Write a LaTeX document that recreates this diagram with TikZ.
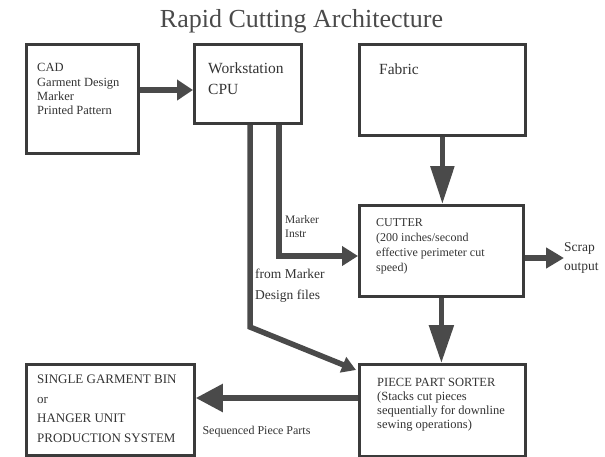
\documentclass[tikz,border=0pt]{standalone}
\usepackage{fontspec}
\setmainfont{Liberation Serif}
\usetikzlibrary{arrows.meta}
\usetikzlibrary{calc}
\definecolor{ink}{HTML}{4A4A4A}
\tikzset{
  box/.style={draw=ink!80!black, line width=2.8pt, anchor=north west, inner sep=0pt},
  pipe/.style={draw=ink, line width=5.5pt, line join=miter},
  txt/.style={align=left, inner sep=0pt, text=black!80, anchor=north west},
}
\newcommand{\fs}[2]{\fontsize{#1}{#2}\selectfont}

\begin{document}
\begin{tikzpicture}[x=1pt, y=-1pt]
            \useasboundingbox (0,0) rectangle (605,456);
            \node[text=ink, font=\fs{26}{28}] (title) at (301.5,21) {Rapid Cutting Architecture};
            \node[box, minimum width=112, minimum height=109] (cad) at (25,43) {};
            \node[box, minimum width=107, minimum height=79] (ws) at (193,43) {};
            \node[box, minimum width=166, minimum height=91] (fabric) at (358,43) {};
            \node[box, minimum width=164, minimum height=91] (cutter) at (358,204) {};
            \node[box, minimum width=166, minimum height=92] (sorter) at (358,363) {};
            \node[box, minimum width=168, minimum height=91] (bin) at (25,363) {};
            \node[txt, font=\fs{12.5}{14.3}] (cadtxt) at ($(cad.north west)+(12,20.5)$) {CAD\\Garment Design\\Marker\\Printed Pattern};
            \node[txt, font=\fs{15.5}{21}] (wstxt) at ($(ws.north west)+(15,19.5)$) {Workstation\\CPU};
            \node[txt, font=\fs{15.5}{21}] (fabtxt) at ($(fabric.north west)+(21,20.5)$) {Fabric};
            \node[txt, font=\fs{12}{15}] (cuttxt) at ($(cutter.north west)+(18,14.5)$) {CUTTER\\(200 inches/second\\effective perimeter cut\\speed)};
            \node[txt, font=\fs{12.5}{14}] (sorttxt) at ($(sorter.north west)+(19,15)$) {PIECE PART SORTER\\(Stacks cut pieces\\sequentially for downline\\sewing operations)};
            \node[txt, font=\fs{13}{19.5}] (bintxt) at ($(bin.north west)+(12,12)$) {SINGLE GARMENT BIN\\or\\HANGER UNIT\\PRODUCTION SYSTEM};
            \node[txt, font=\fs{11.5}{14}] (instr) at (285,215) {Marker\\Instr};
            \node[txt, font=\fs{13.5}{20.5}] (files) at (255,269) {from Marker\\Design files};
            \node[txt, font=\fs{12}{13}, anchor=center] (parts) at (256.5,432) {Sequenced Piece Parts};
            \node[txt, font=\fs{13.5}{19}, anchor=west] (scrap) at (564,258) {Scrap\\output};
            \draw[pipe, -{Triangle[length=16pt,width=20pt]}] (cad.east |- 0,90) -- (ws.west |- 0,90);
            \draw[pipe, -{Triangle[length=16pt,width=19pt]}] (ws.south -| 279,0) |- (cutter.west |- 0,256);
            \draw[pipe, -{Triangle[length=14pt,width=16pt]}] (ws.south -| 250,0) -- (250,327) -- ($(sorter.north west)+(-2,7)$);
            \draw[pipe, -{Triangle[length=38pt,width=23pt]}] (fabric.south) -- (fabric.south |- cutter.north);
            \draw[pipe, -{Triangle[length=38pt,width=24pt]}] (cutter.south) -- (cutter.south |- sorter.north);
            \draw[pipe, -{Triangle[length=18pt,width=20pt]}] (cutter.east |- scrap.west) -- (scrap.west);
            \draw[pipe, -{Triangle[length=27pt,width=27pt]}] (sorter.west |- 0,398) -- (bin.east |- 0,398);
        \end{tikzpicture}
\end{document}
